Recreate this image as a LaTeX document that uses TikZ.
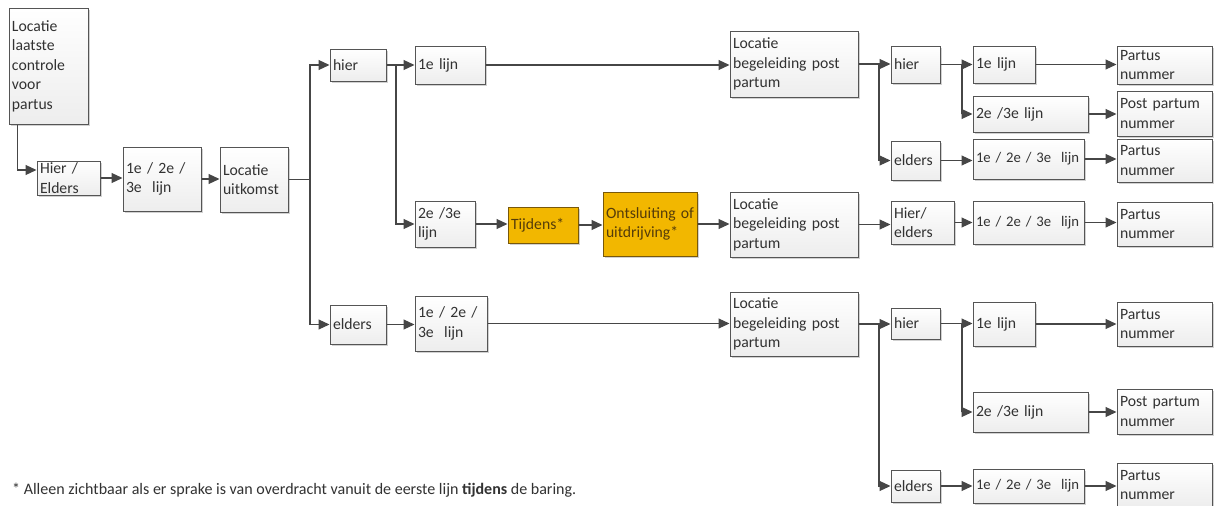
\documentclass[tikz,border=0pt]{standalone}
\usepackage{fontspec}
\setmainfont{Carlito}
\usetikzlibrary{arrows.meta,shadows,calc}
\definecolor{lnc}{RGB}{70,70,70}
\definecolor{bdc}{RGB}{85,85,85}
\definecolor{txc}{RGB}{50,50,50}
\definecolor{orng}{RGB}{242,183,0}
\definecolor{orbd}{RGB}{120,88,10}
\definecolor{ortx}{RGB}{85,60,10}
\tikzset{
  basebox/.style={draw=bdc, line width=1pt, inner xsep=3pt, inner ysep=0pt, align=left,
    text=txc, font=\fontsize{15.7}{19.5}\selectfont,
    drop shadow={shadow xshift=2pt, shadow yshift=-2pt, fill=black, opacity=0.18}},
  plainbox/.style={basebox, top color=white, bottom color=black!7},
  orangebox/.style={basebox, fill=orng, draw=orbd, text=ortx},
  wire/.style={draw=lnc, line width=1.1pt},
  arw/.style={wire, -{Triangle[length=11pt,width=10pt]}},
}
\newcommand\mybox[7]{%
  \pgfmathsetmacro\bw{#5-#3}%
  \pgfmathsetmacro\bh{#6-#4}%
  \pgfmathsetmacro\tw{#5-#3-6}%
  \pgfmathsetmacro\cx{(#3+#5)/2}%
  \pgfmathsetmacro\cy{(#4+#6)/2}%
  \node[#1, minimum width=\bw pt, minimum height=\bh pt, text width=\tw pt] (#2) at (\cx,\cy) {#7};}
\newcommand\allijn{\resizebox{103pt}{!}{1e / 2e / 3e~ lijn}}
\hyphenpenalty=10000
\exhyphenpenalty=10000
\begin{document}
\begin{tikzpicture}[x=1pt,y=-1pt]
\fill[white] (0,0) rectangle (1216,506);
\useasboundingbox (0,0) rectangle (1216,506);
% left part
\mybox{plainbox}{L0}{9}{8}{88}{124}{Locatie\\laatste\\controle\\voor\\partus}
\mybox{plainbox}{HE}{37}{161}{100}{195}{Hier /\\Elders}
\mybox{plainbox}{N1}{123}{147}{201}{211}{1e / 2e /\\3e~ lijn}
\mybox{plainbox}{LU}{220}{147}{288}{212}{Locatie\\uitkomst}
\mybox{plainbox}{H1}{330}{49}{386}{81}{hier}
\mybox{plainbox}{L1}{415}{46}{485}{84}{1e lijn}
\mybox{plainbox}{L23}{415}{201}{475}{247}{2e /3e\\lijn}
\mybox{orangebox}{T}{508}{207}{578}{243}{Tijdens*}
\mybox{orangebox}{O}{603}{192}{697}{256}{\mbox{Ontsluiting of}\\uitdrijving*}
\mybox{plainbox}{E1}{330}{305}{386}{344}{elders}
\mybox{plainbox}{N2}{415}{296}{487}{351}{1e / 2e /\\3e~ lijn}
% middle
\mybox{plainbox}{LB1}{730}{31}{858}{97}{Locatie\\begeleiding post\\partum}
\mybox{plainbox}{LB2}{730}{192}{858}{257}{Locatie\\begeleiding post\\partum}
\mybox{plainbox}{LB3}{730}{292}{858}{356}{Locatie\\begeleiding post\\partum}
% right top
\mybox{plainbox}{H2}{891}{46}{940}{83}{hier}
\mybox{plainbox}{L1b}{973}{46}{1035}{83}{1e lijn}
\mybox{plainbox}{L23b}{973}{96}{1088}{132}{2e /3e lijn}
\mybox{plainbox}{P1}{1117}{46}{1212}{84}{Partus\\nummer}
\mybox{plainbox}{PP1}{1117}{91}{1212}{136}{\mbox{Post partum}\\nummer}
\mybox{plainbox}{E2}{891}{141}{940}{180}{elders}
\mybox{plainbox}{N3}{973}{139}{1084}{179}{\allijn}
\mybox{plainbox}{P2}{1117}{139}{1212}{182}{Partus\\nummer}
% right middle
\mybox{plainbox}{HE2}{891}{201}{954}{244}{Hier/\\elders}
\mybox{plainbox}{N4}{973}{201}{1084}{244}{\allijn}
\mybox{plainbox}{P3}{1117}{202}{1212}{246}{Partus\\nummer}
% right bottom
\mybox{plainbox}{H3}{891}{308}{940}{339}{hier}
\mybox{plainbox}{L1c}{973}{302}{1035}{346}{1e lijn}
\mybox{plainbox}{P4}{1117}{302}{1212}{346}{Partus\\nummer}
\mybox{plainbox}{L23c}{973}{392}{1088}{432}{2e /3e lijn}
\mybox{plainbox}{PP2}{1117}{389}{1212}{434}{\mbox{Post partum}\\nummer}
\mybox{plainbox}{E3}{891}{470}{940}{502}{elders}
\mybox{plainbox}{N5}{973}{469}{1084}{503}{\allijn}
\mybox{plainbox}{P5}{1117}{463}{1212}{507}{Partus\\nummer}
% footnote
\node[anchor=west, inner sep=0pt, text=txc, font=\fontsize{15.5}{19}\selectfont] (fn) at (12,490)
  {\resizebox{564pt}{!}{* Alleen zichtbaar als er sprake is van overdracht vanuit de eerste lijn \textbf{tijdens} de baring.}};
% junction coordinates
\coordinate (j1) at (310,0);
\coordinate (j2) at (396,0);
\coordinate (j3) at (879,0);
\coordinate (j4) at (962,0);
% connectors left
\draw[arw] ([xshift=9pt]L0.south west) |- ([yshift=8pt]HE.west);
\draw[arw] (HE.east) -- (HE.east -| N1.west);
\draw[arw] (N1.east) -- (N1.east -| LU.west);
\draw[wire] (LU.east) -- (LU.east -| j1);
\draw[arw] (LU.east -| j1) |- (H1.west);
\draw[arw] (LU.east -| j1) |- (E1.west);
\draw[arw] (H1.east) -- (H1.east -| L1.west);
\draw[arw] (H1.east -| j2) |- (L23.west);
\draw[arw] (L23.east) -- (L23.east -| T.west);
\draw[arw] (T.east) -- (T.east -| O.west);
\draw[arw] (O.east) -- (O.east -| LB2.west);
\draw[arw] (L1.east) -- (L1.east -| LB1.west);
\draw[arw] (E1.east) -- (E1.east -| N2.west);
\draw[arw] (N2.east) -- (N2.east -| LB3.west);
% connectors right top
\draw[arw] (LB1.east) -- (LB1.east -| H2.west);
\draw[arw] (LB1.east -| j3) |- (E2.west);
\draw[arw] (H2.east) -- (H2.east -| L1b.west);
\draw[arw] (H2.east -| j4) |- (L23b.west);
\draw[arw] (L1b.east) -- (L1b.east -| P1.west);
\draw[arw] (L23b.east) -- (L23b.east -| PP1.west);
\draw[arw] (E2.east) -- (E2.east -| N3.west);
\draw[arw] (N3.east) -- (N3.east -| P2.west);
% right middle
\draw[arw] (LB2.east) -- (LB2.east -| HE2.west);
\draw[arw] (HE2.east) -- (HE2.east -| N4.west);
\draw[arw] (N4.east) -- (N4.east -| P3.west);
% right bottom
\draw[arw] (LB3.east) -- (LB3.east -| H3.west);
\draw[arw] (LB3.east -| j3) |- (E3.west);
\draw[arw] (H3.east) -- (H3.east -| L1c.west);
\draw[arw] (H3.east -| j4) |- (L23c.west);
\draw[arw] (L1c.east) -- (L1c.east -| P4.west);
\draw[arw] (L23c.east) -- (L23c.east -| PP2.west);
\draw[arw] (E3.east) -- (E3.east -| N5.west);
\draw[arw] (N5.east) -- (N5.east -| P5.west);
\end{tikzpicture}
\end{document}
